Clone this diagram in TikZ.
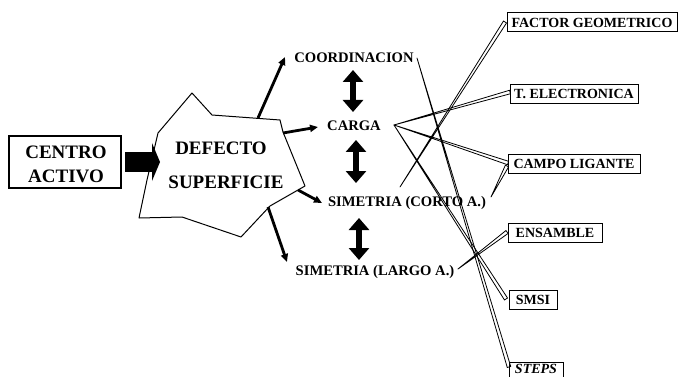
\documentclass[tikz,border=0pt]{standalone}
\usepackage{fontspec}
\setmainfont{Liberation Serif}
\usetikzlibrary{arrows.meta,calc}

\tikzset{
  bigtxt/.style={font=\fontsize{19}{22}\selectfont\bfseries, inner sep=0pt},
  lbl/.style={font=\fontsize{14.6}{16}\selectfont\bfseries, inner sep=0pt},
  boxtxt/.style={font=\fontsize{14}{16}\selectfont\bfseries, inner sep=0pt},
  rbox/.style={draw, line width=1pt, boxtxt, minimum height=19pt},
  outline/.style={draw, line width=1pt, line join=round},
  thickarrow/.style={line width=2.8pt, -{Triangle[length=8pt,width=7pt]}},
  dblarrow/.style={line width=6pt, {Triangle[length=12pt,width=20pt]}-{Triangle[length=12pt,width=20pt]}},
  wedge/.style={draw, line width=0.8pt, line join=round},
}
% thin tapered connector: point at #1, open end of width 2x#3 at #2
\newcommand\taper[3]{%
  \draw[wedge] (#1) -- ($(#2)!#3!90:(#1)$) -- ($(#2)!#3!-90:(#1)$) -- cycle;}

\begin{document}
\begin{tikzpicture}[x=1pt,y=-1pt]
\useasboundingbox (0,0) rectangle (680,377);

% source box
\node[draw, line width=1.2pt, minimum width=112pt, minimum height=52pt, inner sep=0pt] (centro) at (65,162) {};
\node[bigtxt] (centro1) at (66,152) {CENTRO};
\node[bigtxt] (centro2) at (66,176) {ACTIVO};

% jagged surface-defect outline
\draw[outline, fill=white] (192,93) -- (212,115) -- (280,120) -- (283,132) -- (305,186)
  -- (270,206) -- (241,237) -- (182,217) -- (139,218) -- (147,180) -- (158,133) -- cycle;
\node[bigtxt] (def1) at (221,148) {DEFECTO};
\node[bigtxt] (def2) at (226,182) {SUPERFICIE};

% fat arrow into the defect
\coordinate (fa0) at (125,162);
\coordinate (fa1) at (152,162);
\coordinate (fa2) at (160,162);
\fill (fa0) ++(0,-10) rectangle ($(fa1)+(0,10)$);
\fill ($(fa1)+(0,-19)$) -- (fa2) -- ($(fa1)+(0,19)$) -- cycle;

% property labels
\node[lbl] (coord) at (354,58) {COORDINACION};
\node[lbl] (carga) at (354,126) {CARGA};
\node[lbl] (corto) at (407,203) {SIMETRIA (CORTO A.)};
\node[lbl] (largo) at (375,272) {SIMETRIA (LARGO A.)};

% arrows leaving the defect
\coordinate (s1) at (258,118);
\coordinate (s2) at (283,133);
\coordinate (s3) at (298,190);
\coordinate (s4) at (268,207);
\coordinate (e1) at (285,57);
\coordinate (e2) at (318,127);
\coordinate (e3) at (322,203);
\coordinate (e4) at (287,262);
\draw[thickarrow] (s1) -- (e1);
\draw[thickarrow] (s2) -- (e2);
\draw[thickarrow] (s3) -- (e3);
\draw[thickarrow] (s4) -- (e4);

% two-way arrows between the properties
\coordinate (d1a) at (353,70);  \coordinate (d1b) at (353,112);
\coordinate (d2a) at (356,140); \coordinate (d2b) at (356,183);
\coordinate (d3a) at (359,218); \coordinate (d3b) at (359,260);
\draw[dblarrow] (d1a) -- (d1b);
\draw[dblarrow] (d2a) -- (d2b);
\draw[dblarrow] (d3a) -- (d3b);

% boxes on the right
\node[rbox, minimum width=170pt] (fg) at (592,22.5) {FACTOR GEOMETRICO};
\node[rbox, minimum width=128pt] (te) at (574,94) {T. ELECTRONICA};
\node[rbox, minimum width=132pt] (cl) at (574,164) {CAMPO LIGANTE};
\node[rbox, minimum width=94pt] (en) at (555,233) {ENSAMBLE};
\node[rbox, minimum width=48pt] (sm) at (533,300) {SMSI};
% last box runs past the lower edge
\node[boxtxt, font=\fontsize{14}{16}\selectfont\bfseries\itshape] (st) at (536,369) {STEPS};
\draw[line width=1pt] (509,382) -- (509,362) -- (563,362) -- (563,382);

% connector end points
\coordinate (pcoord) at (417,58);
\coordinate (pcarga) at (394,125);
\coordinate (pcorto) at (400,187);
\coordinate (pcorto2) at (491,197);
\coordinate (plargo) at (458,269);
\coordinate (qfg) at (505,22);
\coordinate (qte) at (510,92);
\coordinate (qcl) at (508,163);
\coordinate (qcl2) at (507,166);
\coordinate (qen) at (507,232);
\coordinate (qsm) at (506,299);
\coordinate (qst) at (509,367);

\taper{pcoord}{qst}{1.8pt}
\taper{pcarga}{qte}{1.8pt}
\taper{pcarga}{qcl}{1.8pt}
\taper{pcarga}{qsm}{1.8pt}
\taper{pcorto}{qfg}{1.8pt}
\taper{pcorto2}{qcl2}{1.8pt}
\taper{plargo}{qen}{1.8pt}

\end{tikzpicture}
\end{document}
